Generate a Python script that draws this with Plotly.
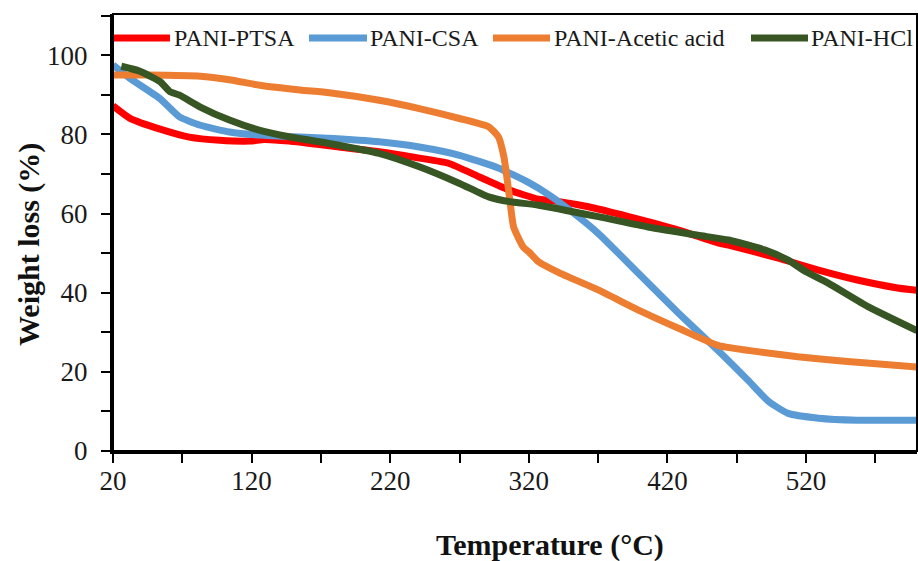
import plotly.graph_objects as go

# Thermogravimetric curves (temperature in °C, remaining weight in %)
ptsa_t = [20, 32, 54, 75, 97, 119, 129, 147, 183, 212, 241, 262, 284, 306, 327, 342, 363, 392, 428, 457, 464, 500, 529, 557, 586, 600]
ptsa_w = [87.2, 84.1, 81.3, 79.3, 78.5, 78.3, 78.7, 78.3, 76.8, 75.6, 74.0, 72.7, 69.3, 65.9, 63.6, 63.0, 61.7, 59.2, 55.8, 52.5, 52.0, 48.7, 45.7, 43.2, 41.2, 40.6]

csa_t = [20, 32, 54, 68, 83, 104, 126, 176, 212, 241, 270, 298, 320, 335, 349, 370, 399, 428, 457, 478, 493, 507, 529, 557, 600]
csa_w = [97.5, 94.2, 89.0, 84.4, 82.3, 80.6, 79.8, 79.0, 78.1, 76.8, 74.7, 71.5, 67.8, 64.6, 61.0, 55.0, 44.9, 34.8, 25.2, 17.9, 12.5, 9.5, 8.3, 7.8, 7.8]

acetic_t = [20, 46, 83, 104, 126, 155, 176, 212, 241, 270, 291, 298, 302, 306, 309, 316, 320, 327, 342, 370, 399, 428, 457, 485, 514, 550, 600]
acetic_w = [95.0, 95.0, 94.7, 93.8, 92.4, 91.2, 90.5, 88.6, 86.5, 84.0, 81.9, 79.4, 74.3, 64.2, 56.6, 51.5, 50.3, 47.8, 45.0, 40.7, 35.6, 31.0, 26.6, 25.1, 23.8, 22.6, 21.2]

hcl_t = [26, 39, 54, 61, 68, 83, 104, 126, 147, 176, 212, 241, 270, 291, 306, 327, 370, 406, 442, 464, 490, 507, 520, 536, 565, 600]
hcl_w = [97.2, 96.0, 93.3, 90.8, 89.9, 86.9, 83.6, 81.0, 79.4, 77.7, 75.2, 71.8, 67.6, 64.2, 63.0, 62.1, 59.2, 56.6, 54.5, 53.3, 50.8, 48.2, 45.3, 42.4, 36.4, 30.4]

series_names = ["PANI-PTSA", "PANI-CSA", "PANI-Acetic acid", "PANI-HCl"]
series_colors = ["#FF0000", "#5B9BD5", "#ED7D31", "#375623"]
series_data = [(ptsa_t, ptsa_w), (csa_t, csa_w), (acetic_t, acetic_w), (hcl_t, hcl_w)]

x_tick_vals = list(range(20, 601, 50))
x_tick_text = [str(v) if (v - 20) % 100 == 0 else "" for v in x_tick_vals]
y_tick_vals = list(range(0, 111, 10))
y_tick_text = [str(v) if v % 20 == 0 else "" for v in y_tick_vals]

W, H = 918, 561
L, R, T, B = 113, 917, 14, 451
SERIF = "Liberation Serif, Times New Roman, serif"

fig = go.Figure()
for name, color, (t, w) in zip(series_names, series_colors, series_data):
    fig.add_trace(go.Scatter(
        x=t, y=w, mode="lines", name=name,
        line=dict(color=color, width=7, shape="spline", smoothing=0.5),
        showlegend=False,
    ))


def px_to_paper(px, py):
    return (px - L) / (R - L), (B - py) / (B - T)


# legend row drawn across the top of the plot area
legend_items = [(113, 170, 172), (309, 367, 368), (493, 550, 552), (751, 808, 809)]
legend_y = 38
for (x0, x1, xt), name, color in zip(legend_items, series_names, series_colors):
    a0, yy = px_to_paper(x0, legend_y)
    a1, _ = px_to_paper(x1, legend_y)
    at, _ = px_to_paper(xt, legend_y)
    fig.add_shape(type="line", xref="paper", yref="paper", x0=a0, x1=a1, y0=yy, y1=yy,
                  line=dict(color=color, width=7), layer="above")
    fig.add_annotation(xref="paper", yref="paper", x=at, y=yy, text=name, showarrow=False,
                       xanchor="left", yanchor="middle",
                       font=dict(family=SERIF, size=24, color="#1a1a1a"))

# frame around the plot area
fig.add_shape(type="rect", xref="paper", yref="paper", x0=0, x1=1, y0=0, y1=1,
              line=dict(color="black", width=2), layer="above")

# axis titles
tx, ty = px_to_paper(550, 545)
fig.add_annotation(xref="paper", yref="paper", x=tx, y=ty, text="<b>Temperature (°C)</b>",
                   showarrow=False, xanchor="center", yanchor="middle",
                   font=dict(family=SERIF, size=30, color="#111"))
vx, vy = px_to_paper(29, 245)
fig.add_annotation(xref="paper", yref="paper", x=vx, y=vy, text="<b>Weight loss (%)</b>",
                   showarrow=False, xanchor="center", yanchor="middle", textangle=-90,
                   font=dict(family=SERIF, size=30, color="#111"))

axis_common = dict(
    showgrid=False, zeroline=False, showline=True, linecolor="black", linewidth=3,
    ticks="outside", tickcolor="black", tickwidth=1.5, ticklen=9,
    tickfont=dict(family=SERIF, size=27, color="#1a1a1a"),
)
fig.update_xaxes(range=[20, 600], tickmode="array", tickvals=x_tick_vals, ticktext=x_tick_text,
                 ticklabelstandoff=-5, **axis_common)
fig.update_yaxes(range=[0, 110.4], tickmode="array", tickvals=y_tick_vals, ticktext=y_tick_text,
                 ticklabelstandoff=8, **axis_common)

fig.update_layout(
    width=W, height=H,
    margin=dict(l=L, r=W - R, t=T, b=H - B),
    paper_bgcolor="white", plot_bgcolor="white",
    showlegend=False,
)

fig.write_html("out.html")
